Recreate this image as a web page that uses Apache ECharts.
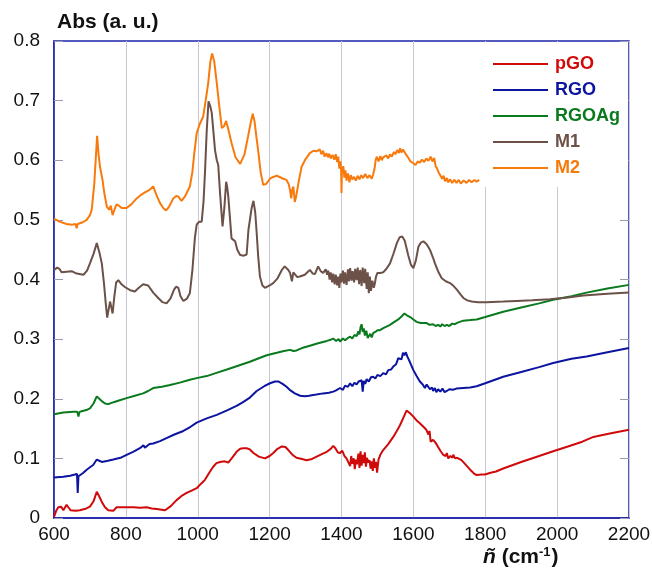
<!DOCTYPE html>
<html>
<head>
<meta charset="utf-8">
<script src="https://cdn.jsdelivr.net/npm/echarts@6/dist/echarts.min.js"></script>
<style>
html,body{margin:0;padding:0;background:#fff;}
#chart{width:652px;height:570px;}
</style>
</head>
<body>
<div id="chart"></div>
<script>
const seriesNames = ['pGO', 'RGO', 'RGOAg', 'M1', 'M2'];
const seriesColors = ['#d00a0a', '#0c14a0', '#0a7a1e', '#6b5148', '#f97a0c'];
const xTicks = [600, 800, 1000, 1200, 1400, 1600, 1800, 2000, 2200];
const yTicks = [0, 0.1, 0.2, 0.3, 0.4, 0.5, 0.6, 0.7, 0.8];

const pGO = [[600,0.002],[606,0.012],[612,0.018],[620,0.019],[626,0.013],[630,0.016],[635,0.022],[640,0.018],[646,0.013],[660,0.012],[672,0.013],[690,0.016],[700,0.019],[710,0.028],[719,0.044],[726,0.036],[733,0.027],[742,0.018],[751,0.013],[765,0.012],[774,0.018],[800,0.018],[821,0.018],[840,0.017],[858,0.018],[872,0.016],[886,0.015],[909,0.013],[925,0.020],[941,0.030],[955,0.037],[969,0.042],[983,0.046],[997,0.050],[1010,0.058],[1020,0.064],[1032,0.076],[1043,0.086],[1052,0.092],[1062,0.094],[1075,0.095],[1085,0.093],[1097,0.102],[1108,0.111],[1118,0.116],[1127,0.117],[1136,0.117],[1145,0.115],[1155,0.109],[1170,0.103],[1187,0.100],[1200,0.104],[1210,0.109],[1222,0.116],[1234,0.120],[1244,0.119],[1252,0.114],[1262,0.107],[1268,0.104],[1275,0.101],[1280,0.104],[1290,0.099],[1303,0.097],[1318,0.099],[1331,0.103],[1345,0.107],[1359,0.111],[1370,0.116],[1377,0.121],[1383,0.117],[1390,0.110],[1396,0.109],[1402,0.113],[1408,0.104],[1414,0.100],[1419,0.097],[1424,0.087],[1427,0.104],[1430,0.091],[1434,0.100],[1437,0.082],[1440,0.098],[1443,0.090],[1447,0.108],[1450,0.084],[1453,0.112],[1456,0.088],[1459,0.106],[1462,0.092],[1465,0.110],[1468,0.086],[1471,0.101],[1474,0.093],[1478,0.097],[1481,0.083],[1484,0.095],[1487,0.079],[1490,0.100],[1493,0.084],[1496,0.094],[1499,0.076],[1503,0.098],[1508,0.106],[1516,0.114],[1530,0.124],[1544,0.136],[1555,0.147],[1563,0.156],[1572,0.168],[1581,0.180],[1590,0.176],[1600,0.170],[1610,0.163],[1618,0.159],[1628,0.153],[1636,0.148],[1642,0.140],[1645,0.146],[1648,0.128],[1655,0.131],[1662,0.126],[1670,0.118],[1676,0.112],[1683,0.106],[1690,0.104],[1693,0.109],[1697,0.100],[1703,0.104],[1709,0.101],[1711,0.106],[1716,0.100],[1722,0.101],[1734,0.097],[1746,0.089],[1758,0.081],[1768,0.075],[1776,0.072],[1790,0.073],[1799,0.073],[1815,0.076],[1830,0.078],[1850,0.083],[1900,0.094],[1950,0.104],[1989,0.112],[2030,0.120],[2070,0.128],[2101,0.136],[2110,0.137],[2150,0.142],[2200,0.148]];

const RGO = [[600,0.068],[626,0.069],[645,0.071],[658,0.073],[664,0.074],[666,0.042],[668,0.070],[672,0.073],[680,0.075],[691,0.081],[700,0.085],[709,0.089],[719,0.098],[726,0.096],[733,0.094],[750,0.096],[765,0.098],[785,0.101],[802,0.106],[820,0.111],[839,0.117],[849,0.122],[853,0.118],[857,0.118],[866,0.124],[876,0.125],[895,0.129],[913,0.134],[935,0.140],[960,0.146],[980,0.153],[997,0.160],[1025,0.167],[1053,0.173],[1080,0.180],[1108,0.188],[1125,0.194],[1145,0.202],[1164,0.213],[1185,0.221],[1201,0.226],[1215,0.229],[1224,0.229],[1236,0.225],[1247,0.220],[1258,0.214],[1270,0.209],[1285,0.205],[1298,0.204],[1310,0.205],[1317,0.206],[1330,0.207],[1349,0.209],[1365,0.210],[1377,0.212],[1385,0.214],[1396,0.218],[1404,0.215],[1410,0.222],[1418,0.220],[1424,0.226],[1430,0.221],[1436,0.227],[1442,0.224],[1448,0.229],[1453,0.226],[1456,0.231],[1459,0.212],[1462,0.230],[1466,0.225],[1470,0.233],[1476,0.229],[1482,0.236],[1488,0.237],[1494,0.234],[1500,0.240],[1508,0.238],[1516,0.243],[1524,0.241],[1530,0.248],[1538,0.249],[1544,0.254],[1552,0.258],[1558,0.268],[1563,0.271],[1567,0.266],[1571,0.277],[1575,0.273],[1579,0.278],[1583,0.271],[1590,0.262],[1600,0.248],[1609,0.238],[1618,0.229],[1626,0.224],[1632,0.218],[1637,0.224],[1646,0.216],[1652,0.219],[1655,0.213],[1660,0.218],[1664,0.211],[1669,0.216],[1675,0.212],[1681,0.217],[1687,0.211],[1693,0.213],[1700,0.216],[1710,0.215],[1720,0.217],[1739,0.218],[1758,0.219],[1776,0.221],[1800,0.226],[1850,0.237],[1900,0.245],[1950,0.253],[1989,0.260],[2040,0.267],[2082,0.271],[2140,0.278],[2200,0.285]];

const RGOAg = [[600,0.174],[626,0.177],[654,0.178],[665,0.178],[668,0.170],[671,0.178],[677,0.179],[690,0.181],[700,0.184],[710,0.192],[719,0.204],[726,0.200],[733,0.196],[742,0.192],[751,0.191],[760,0.193],[770,0.195],[785,0.198],[802,0.201],[825,0.205],[848,0.209],[862,0.213],[876,0.218],[900,0.220],[923,0.223],[950,0.227],[978,0.232],[1000,0.235],[1025,0.238],[1050,0.243],[1081,0.249],[1110,0.255],[1145,0.262],[1170,0.268],[1192,0.273],[1220,0.277],[1240,0.280],[1257,0.282],[1266,0.280],[1275,0.281],[1290,0.285],[1312,0.289],[1335,0.293],[1359,0.297],[1370,0.299],[1377,0.301],[1385,0.297],[1392,0.300],[1396,0.296],[1404,0.301],[1410,0.298],[1418,0.302],[1424,0.304],[1430,0.301],[1436,0.307],[1442,0.305],[1447,0.313],[1450,0.308],[1453,0.320],[1456,0.325],[1459,0.312],[1462,0.318],[1465,0.306],[1469,0.314],[1473,0.302],[1476,0.300],[1480,0.309],[1484,0.303],[1488,0.310],[1494,0.312],[1500,0.315],[1507,0.315],[1515,0.318],[1525,0.321],[1535,0.324],[1545,0.328],[1558,0.333],[1567,0.338],[1575,0.343],[1582,0.340],[1591,0.337],[1600,0.333],[1609,0.329],[1620,0.327],[1637,0.327],[1645,0.324],[1650,0.327],[1655,0.325],[1662,0.322],[1669,0.324],[1675,0.321],[1680,0.325],[1687,0.322],[1693,0.324],[1700,0.322],[1708,0.326],[1715,0.325],[1725,0.328],[1739,0.331],[1758,0.332],[1776,0.333],[1800,0.337],[1850,0.346],[1900,0.353],[1950,0.360],[1989,0.366],[2040,0.372],[2082,0.378],[2140,0.385],[2200,0.391]];

const M1 = [[600,0.416],[609,0.420],[615,0.418],[621,0.412],[635,0.413],[649,0.414],[663,0.410],[682,0.408],[692,0.415],[700,0.427],[710,0.443],[719,0.461],[726,0.446],[733,0.427],[739,0.394],[744,0.360],[748,0.336],[752,0.350],[756,0.363],[760,0.352],[763,0.343],[768,0.372],[773,0.395],[779,0.399],[788,0.392],[798,0.387],[812,0.382],[825,0.380],[836,0.386],[848,0.392],[862,0.390],[876,0.378],[890,0.369],[902,0.362],[913,0.360],[924,0.368],[934,0.383],[940,0.388],[946,0.386],[952,0.372],[960,0.364],[970,0.368],[978,0.377],[985,0.415],[992,0.470],[997,0.492],[1004,0.497],[1011,0.497],[1016,0.530],[1020,0.578],[1025,0.650],[1030,0.699],[1035,0.690],[1039,0.679],[1044,0.645],[1048,0.617],[1053,0.600],[1057,0.592],[1062,0.545],[1069,0.489],[1074,0.520],[1079,0.564],[1082,0.555],[1085,0.539],[1090,0.500],[1094,0.469],[1104,0.464],[1110,0.450],[1118,0.441],[1128,0.440],[1136,0.442],[1141,0.483],[1150,0.520],[1155,0.532],[1160,0.512],[1164,0.478],[1168,0.440],[1173,0.405],[1180,0.390],[1187,0.386],[1200,0.390],[1210,0.394],[1222,0.402],[1234,0.416],[1242,0.422],[1247,0.422],[1252,0.416],[1257,0.411],[1262,0.397],[1266,0.412],[1270,0.413],[1277,0.404],[1284,0.405],[1298,0.408],[1305,0.412],[1312,0.416],[1320,0.410],[1326,0.409],[1335,0.422],[1342,0.414],[1349,0.411],[1356,0.417],[1360,0.408],[1363,0.415],[1367,0.400],[1370,0.412],[1374,0.395],[1377,0.410],[1381,0.392],[1384,0.408],[1388,0.390],[1391,0.405],[1394,0.386],[1397,0.410],[1400,0.395],[1404,0.415],[1407,0.393],[1410,0.412],[1414,0.391],[1418,0.417],[1421,0.397],[1424,0.419],[1428,0.398],[1431,0.414],[1435,0.395],[1438,0.418],[1442,0.399],[1445,0.420],[1449,0.392],[1452,0.416],[1456,0.389],[1459,0.420],[1463,0.394],[1466,0.418],[1470,0.384],[1473,0.412],[1476,0.377],[1479,0.405],[1482,0.381],[1486,0.398],[1490,0.386],[1493,0.394],[1496,0.405],[1500,0.411],[1508,0.411],[1516,0.412],[1525,0.418],[1535,0.427],[1545,0.444],[1554,0.461],[1562,0.471],[1569,0.472],[1576,0.465],[1586,0.440],[1593,0.425],[1600,0.419],[1607,0.432],[1614,0.455],[1621,0.462],[1628,0.464],[1637,0.459],[1646,0.450],[1655,0.436],[1660,0.427],[1670,0.412],[1679,0.402],[1690,0.397],[1702,0.394],[1712,0.389],[1721,0.383],[1730,0.376],[1739,0.369],[1750,0.365],[1762,0.363],[1780,0.362],[1804,0.362],[1850,0.363],[1887,0.364],[1930,0.365],[1980,0.367],[2030,0.370],[2073,0.373],[2140,0.376],[2200,0.378]];

const M2 = [[600,0.502],[615,0.497],[635,0.493],[650,0.492],[660,0.493],[663,0.486],[666,0.493],[680,0.496],[691,0.500],[700,0.508],[705,0.517],[712,0.560],[720,0.641],[724,0.610],[728,0.589],[735,0.567],[740,0.545],[747,0.522],[751,0.519],[754,0.517],[758,0.524],[763,0.508],[768,0.517],[774,0.526],[780,0.524],[788,0.520],[802,0.520],[815,0.526],[830,0.536],[840,0.541],[853,0.546],[865,0.550],[876,0.556],[885,0.542],[895,0.528],[905,0.519],[912,0.516],[920,0.522],[932,0.536],[940,0.540],[946,0.539],[955,0.532],[965,0.540],[978,0.556],[985,0.580],[990,0.610],[997,0.645],[1005,0.660],[1015,0.673],[1022,0.700],[1029,0.729],[1035,0.765],[1040,0.779],[1046,0.765],[1053,0.729],[1060,0.690],[1067,0.654],[1073,0.657],[1079,0.666],[1085,0.652],[1094,0.629],[1105,0.605],[1118,0.594],[1130,0.610],[1140,0.640],[1148,0.665],[1153,0.678],[1158,0.665],[1163,0.640],[1168,0.617],[1175,0.580],[1182,0.559],[1190,0.560],[1201,0.569],[1210,0.572],[1220,0.574],[1238,0.569],[1247,0.567],[1253,0.560],[1257,0.549],[1260,0.536],[1263,0.551],[1266,0.556],[1270,0.530],[1273,0.537],[1276,0.535],[1282,0.568],[1289,0.589],[1300,0.602],[1312,0.612],[1322,0.616],[1330,0.615],[1335,0.612],[1340,0.618],[1344,0.610],[1349,0.616],[1353,0.606],[1358,0.612],[1362,0.605],[1366,0.611],[1370,0.603],[1375,0.609],[1380,0.601],[1384,0.610],[1388,0.597],[1391,0.606],[1394,0.586],[1397,0.598],[1399,0.583],[1400,0.545],[1401,0.580],[1405,0.590],[1408,0.571],[1411,0.583],[1414,0.566],[1418,0.578],[1422,0.563],[1426,0.575],[1430,0.568],[1435,0.572],[1440,0.566],[1445,0.574],[1450,0.568],[1455,0.575],[1460,0.570],[1466,0.577],[1472,0.570],[1478,0.575],[1484,0.569],[1488,0.576],[1492,0.586],[1495,0.600],[1498,0.606],[1503,0.598],[1508,0.607],[1512,0.600],[1516,0.605],[1520,0.602],[1525,0.608],[1530,0.603],[1535,0.610],[1540,0.606],[1546,0.614],[1550,0.610],[1555,0.617],[1560,0.612],[1563,0.620],[1567,0.613],[1571,0.618],[1577,0.612],[1585,0.605],[1592,0.598],[1600,0.595],[1606,0.592],[1612,0.598],[1618,0.596],[1624,0.601],[1630,0.597],[1636,0.603],[1642,0.599],[1648,0.606],[1653,0.598],[1658,0.604],[1662,0.590],[1666,0.586],[1670,0.580],[1675,0.577],[1680,0.569],[1684,0.574],[1688,0.565],[1693,0.570],[1697,0.563],[1702,0.568],[1708,0.562],[1714,0.567],[1720,0.562],[1726,0.567],[1732,0.561],[1740,0.566],[1748,0.562],[1755,0.567],[1762,0.563],[1770,0.567],[1776,0.564],[1783,0.567]];

const seriesData = [pGO, RGO, RGOAg, M1, M2];
const FONT = '"Liberation Sans", Arial, sans-serif';
const AXIS_BLUE = '#1e22a8';

const chart = echarts.init(document.getElementById('chart'), null, {renderer: 'canvas'});
const option = {
  backgroundColor: '#ffffff',
  animation: false,
  textStyle: {fontFamily: FONT},
  title: {
    text: '{i|ñ}{n| (cm}{s|-1}{n|)}',
    left: 483, top: 545,
    padding: 0,
    textStyle: {
      fontFamily: FONT, fontSize: 21, fontWeight: 'bold', color: '#111',
      rich: {
        i: {fontFamily: FONT, fontSize: 21, lineHeight: 24, fontWeight: 'bold', fontStyle: 'italic', color: '#111'},
        n: {fontFamily: FONT, fontSize: 21, lineHeight: 24, fontWeight: 'bold', color: '#111'},
        s: {fontFamily: FONT, fontSize: 13, lineHeight: 14, fontWeight: 'bold', color: '#111', verticalAlign: 'top', padding: [1, 1, 0, 0]}
      }
    }
  },
  grid: {left: 54, right: 23, top: 41, bottom: 52, show: true, borderColor: AXIS_BLUE, borderWidth: 1.5, backgroundColor: 'transparent', containLabel: false, outerBoundsMode: 'none'},
  legend: {
    orient: 'vertical',
    left: 480, top: 42,
    backgroundColor: '#ffffff',
    padding: [12, 8, 9, 13],
    itemGap: 6,
    itemWidth: 55, itemHeight: 2,
    icon: 'rect',
    textStyle: {fontFamily: FONT, fontSize: 18, fontWeight: 'bold', lineHeight: 20, padding: [0, 0, 0, 2]},
    data: seriesNames.map((n, i) => ({name: n, textStyle: {color: seriesColors[i]}}))
  },
  xAxis: {
    type: 'value', min: xTicks[0], max: xTicks[xTicks.length - 1], interval: 200,
    axisLine: {show: true, lineStyle: {color: AXIS_BLUE, width: 1.5}},
    axisTick: {show: false},
    axisLabel: {fontSize: 19, color: '#111', margin: 7, fontFamily: FONT, formatter: v => String(v)},
    splitLine: {show: true, lineStyle: {color: '#c8c8d4', width: 1}}
  },
  yAxis: [{
    type: 'value', min: yTicks[0], max: yTicks[yTicks.length - 1], interval: 0.1,
    position: 'left',
    axisLine: {show: true, lineStyle: {color: AXIS_BLUE, width: 1.5}},
    axisTick: {show: true, inside: true, length: 9, lineStyle: {color: '#9a9ab0'}},
    axisLabel: {fontSize: 19, color: '#111', margin: 14, fontFamily: FONT, formatter: v => (v === 0 ? '0' : v.toFixed(1))},
    splitLine: {show: false},
    name: 'Abs (a. u.)',
    nameLocation: 'end',
    nameGap: 19,
    nameTextStyle: {align: 'left', verticalAlign: 'middle', padding: [0, 0, 0, 3], fontFamily: FONT, fontSize: 21, fontWeight: 'bold', color: '#111'}
  }, {
    type: 'value', min: yTicks[0], max: yTicks[yTicks.length - 1], interval: 0.1,
    position: 'right',
    axisLine: {show: false},
    axisTick: {show: true, inside: true, length: 9, lineStyle: {color: '#9a9ab0'}},
    axisLabel: {show: false},
    splitLine: {show: false}
  }],
  series: seriesNames.map((n, i) => ({
    name: n, type: 'line', data: seriesData[i], yAxisIndex: 0,
    symbol: 'none', showSymbol: false, smooth: false,
    color: seriesColors[i],
    lineStyle: {color: seriesColors[i], width: 2},
    z: 2
  }))
};
chart.setOption(option);
</script>
</body>
</html>
